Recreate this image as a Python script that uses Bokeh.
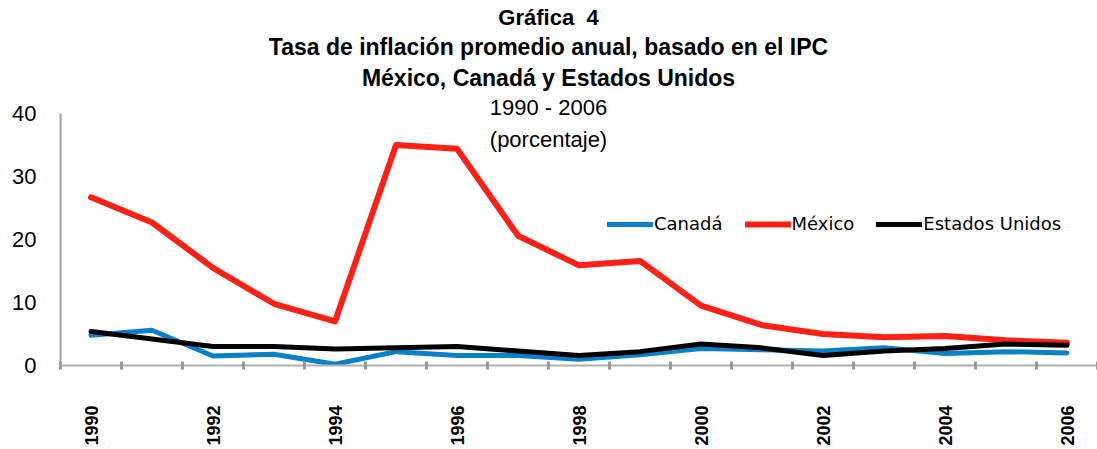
from math import pi

from bokeh.embed import file_html
from bokeh.models import (ColumnDataSource, FixedTicker, Label, Legend,
                          LegendItem, LinearAxis, Range1d)
from bokeh.plotting import figure
from bokeh.resources import INLINE

# Inflación anual promedio (%), basada en el IPC
years = list(range(1990, 2007))
canada = [4.8, 5.6, 1.5, 1.8, 0.2, 2.2, 1.6, 1.6, 1.0, 1.7, 2.7, 2.5, 2.3, 2.8, 1.9, 2.2, 2.0]
mexico = [26.7, 22.7, 15.5, 9.8, 7.0, 35.0, 34.4, 20.6, 15.9, 16.6, 9.5, 6.4, 5.0, 4.5, 4.7, 4.0, 3.6]
usa = [5.4, 4.2, 3.0, 3.0, 2.6, 2.8, 3.0, 2.3, 1.6, 2.2, 3.4, 2.8, 1.6, 2.3, 2.7, 3.4, 3.2]

label_years = [1990, 1992, 1994, 1996, 1998, 2000, 2002, 2004, 2006]
y_ticks = [0, 10, 20, 30, 40]

title_lines = [
    ("Gráfica\u00a0\u00a04", "bold", "22px"),
    ("Tasa de inflación promedio anual, basado en el IPC", "bold", "23px"),
    ("México, Canadá y Estados Unidos", "bold", "23px"),
    ("1990 - 2006", "normal", "22px"),
    ("(porcentaje)", "normal", "22px"),
]

src = ColumnDataSource(dict(year=years, canada=canada, mexico=mexico, usa=usa))

# El marco llega hasta el borde superior; los títulos quedan dentro de él
p = figure(width=1097, height=449, output_backend="svg", toolbar_location=None,
           x_range=Range1d(1989.5, 2006.5), y_range=Range1d(0, 57.94),
           x_axis_location=None, y_axis_location=None,
           min_border_left=60, min_border_right=0,
           min_border_top=0, min_border_bottom=84)
p.outline_line_color = None
p.xgrid.grid_line_color = None
p.ygrid.grid_line_color = None
p.background_fill_color = "white"
p.border_fill_color = "white"

# Eje Y (sólo de 0 a 40)
yaxis = LinearAxis(ticker=FixedTicker(ticks=y_ticks), bounds=(0, 40))
yaxis.axis_line_color = "#a0a0a0"
yaxis.axis_line_width = 2
yaxis.major_tick_line_color = None
yaxis.minor_tick_line_color = None
yaxis.major_tick_out = 0
yaxis.major_tick_in = 0
yaxis.major_label_standoff = 24
yaxis.major_label_text_font = "Liberation Sans"
yaxis.major_label_text_font_size = "22px"
yaxis.major_label_text_color = "black"
p.add_layout(yaxis, "left")

# Eje X: años etiquetados, marcas menores entre categorías
boundaries = [y + 0.5 for y in range(1989, 2007)]
xaxis = LinearAxis(ticker=FixedTicker(ticks=label_years, minor_ticks=boundaries))
xaxis.axis_line_color = "#b0b0b0"
xaxis.axis_line_width = 2
xaxis.major_tick_line_color = None
xaxis.major_tick_in = 0
xaxis.major_tick_out = 0
xaxis.minor_tick_line_color = "#999999"
xaxis.minor_tick_line_width = 3
xaxis.minor_tick_in = 4
xaxis.minor_tick_out = 4
xaxis.major_label_standoff = 36
xaxis.major_label_orientation = pi / 2
xaxis.major_label_text_font = "Liberation Sans"
xaxis.major_label_text_font_style = "bold"
xaxis.major_label_text_font_size = "18px"
xaxis.major_label_text_color = "black"
p.add_layout(xaxis, "below")

r_can = p.line("year", "canada", source=src, line_color="#0a80c8", line_width=5,
               line_join="round", line_cap="round")
r_mex = p.line("year", "mexico", source=src, line_color="#fe2015", line_width=6,
               line_join="round", line_cap="round")
r_usa = p.line("year", "usa", source=src, line_color="black", line_width=5,
               line_join="round", line_cap="round")

legend = Legend(items=[
    LegendItem(label="Canadá", renderers=[r_can]),
    LegendItem(label="México", renderers=[r_mex]),
    LegendItem(label="Estados Unidos", renderers=[r_usa]),
], orientation="horizontal", location=(547, 131))
legend.border_line_color = None
legend.background_fill_alpha = 0
legend.glyph_width = 46
legend.glyph_height = 20
legend.label_standoff = 1
legend.spacing = 22
legend.padding = 4
legend.margin = 0
legend.label_text_font = "DejaVu Sans"
legend.label_text_font_size = "18px"
legend.label_text_color = "black"
p.add_layout(legend, "center")

# Títulos
title_y = [55.2, 50.5, 45.7, 40.9, 35.9]
for (txt, style, size), ty in zip(title_lines, title_y):
    p.add_layout(Label(x=1997.5, y=ty, text=txt, text_align="center",
                       text_baseline="middle",
                       text_font="Liberation Sans",
                       text_font_style=style,
                       text_font_size=size,
                       text_color="black"))

open("out.html", "w").write(file_html(p, INLINE))
